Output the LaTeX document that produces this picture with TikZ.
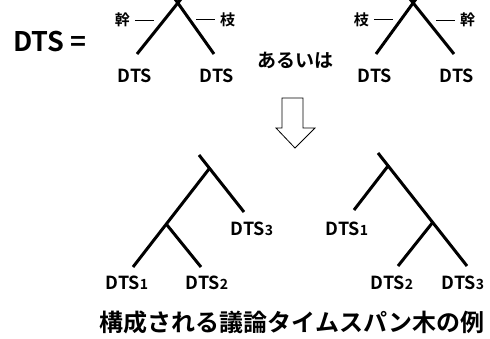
\documentclass[tikz,border=0pt]{standalone}
\usepackage{fontspec}
\setmainfont{Noto Sans CJK JP}[BoldFont={Noto Sans CJK JP Bold}]
\newcommand{\sbd}[1]{{\fontsize{14}{14}\selectfont #1}}
\newcommand{\dashbar}{\rule[0.36em]{19pt}{0.8pt}}
\begin{document}
\begin{tikzpicture}[x=1pt,y=-1pt,
  br/.style={line width=3pt},
  dts/.style={font=\bfseries\fontsize{18}{18}\selectfont, inner sep=0pt},
  tag/.style={font=\bfseries\fontsize{15}{15}\selectfont, inner sep=0pt},
  big/.style={font=\bfseries\fontsize{27}{27}\selectfont, inner sep=0pt},
  captext/.style={font=\bfseries\fontsize{24}{24}\selectfont, inner sep=0pt},
  arr/.style={draw, line width=0.8pt, line join=miter}]
\useasboundingbox (0,0) rectangle (490,338);
% heading
\node[big, anchor=west] (eq) at (13,42) {DTS =};
% top-left tree
\coordinate (la1) at (181,-1);
\coordinate (la2) at (175,-1);
\coordinate (ll) at (137,54);
\coordinate (lr) at (214,54);
\draw[br] (ll) -- (la1);
\draw[br] (lr) -- (la2);
\node[tag, anchor=east] (lk) at (154,20) {幹\hspace{5pt}\dashbar};
\node[tag, anchor=west] (le) at (196,20) {\dashbar\hspace{5pt}枝};
\node[dts] (ld1) at (135,76) {DTS};
\node[dts] (ld2) at (217,76) {DTS};
\node[font=\bfseries\fontsize{19}{19}\selectfont, inner sep=0pt] (or) at (295,60) {あるいは};
% top-right tree
\coordinate (ra1) at (416,-1);
\coordinate (ra2) at (410,-1);
\coordinate (rl) at (376,54);
\coordinate (rr) at (454,54);
\draw[br] (rl) -- (ra1);
\draw[br] (rr) -- (ra2);
\node[tag, anchor=east] (re) at (393,20) {枝\hspace{5pt}\dashbar};
\node[tag, anchor=west] (rk) at (436,20) {\dashbar\hspace{5pt}幹};
\node[dts] (rd1) at (375,76) {DTS};
\node[dts] (rd2) at (457,76) {DTS};
% hollow arrow
\draw[arr] (282,98) -- (303,98) -- (303,128) -- (315,128) -- (295,148) -- (276,128) -- (282,128) -- cycle;
% bottom-left tree
\coordinate (a1) at (199,155);
\coordinate (a2) at (209,169);
\coordinate (a3) at (244,212);
\coordinate (a4) at (167,225);
\coordinate (a5) at (133,267);
\coordinate (a6) at (201,267);
\draw[br] (a1) -- (a3);
\draw[br] (a2) -- (a5);
\draw[br] (a4) -- (a6);
\node[dts] (b3) at (252,229) {DTS\sbd{3}};
\node[dts] (b1) at (127,283) {DTS\sbd{1}};
\node[dts] (b2) at (207,283) {DTS\sbd{2}};
% bottom-right tree
\coordinate (c1) at (378,153);
\coordinate (c2) at (388,166);
\coordinate (c3) at (467,266);
\coordinate (c4) at (354,210);
\coordinate (c5) at (433,222);
\coordinate (c6) at (398,266);
\draw[br] (c1) -- (c3);
\draw[br] (c2) -- (c4);
\draw[br] (c5) -- (c6);
\node[dts] (d1) at (347,229) {DTS\sbd{1}};
\node[dts] (d2) at (392,283) {DTS\sbd{2}};
\node[dts] (d3) at (463,283) {DTS\sbd{3}};
% caption
\node[captext] (capt) at (292,322) {構成される議論タイムスパン木の例};
\end{tikzpicture}
\end{document}
